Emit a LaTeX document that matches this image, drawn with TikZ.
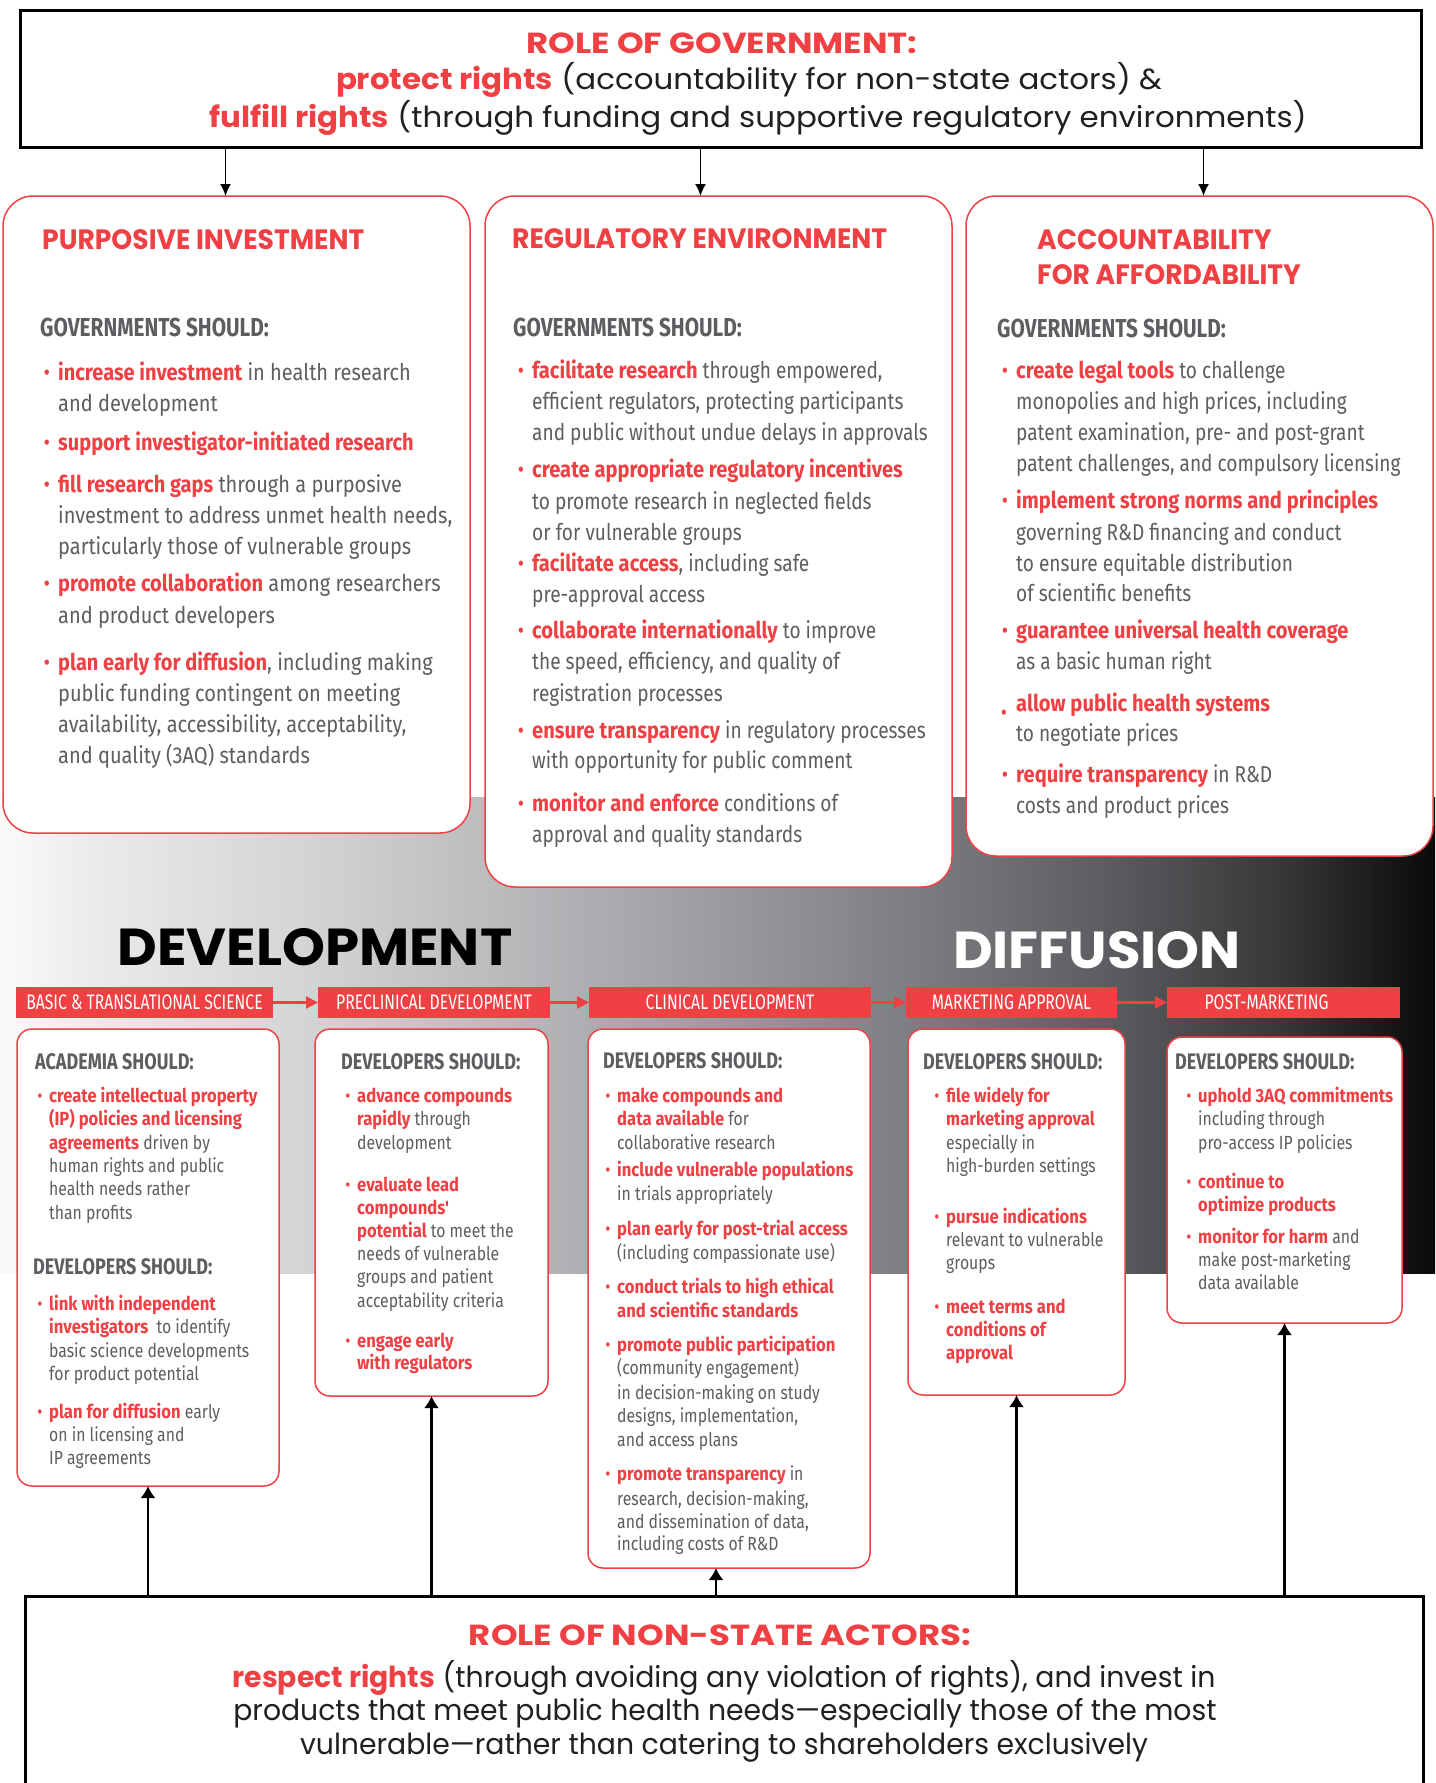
\documentclass[tikz,border=0pt]{standalone}
\usepackage{fontspec}
\usetikzlibrary{arrows.meta}

\newfontfamily\gottitle{Poppins}[FakeStretch=1.17]
\newfontfamily\gotlead{Poppins}[FakeStretch=1.065]
\newfontfamily\gotleadb{Poppins}[FakeStretch=0.975]
\newfontfamily\gotphase{Poppins}[FakeStretch=1.05]
\newfontfamily\gotpanel{Poppins}[FakeStretch=0.95]
\newfontfamily\dintext{Fira Sans}[FakeStretch=0.87]
\newfontfamily\dintextn{Fira Sans}[UprightFeatures={FakeStretch=0.83},BoldFeatures={FakeStretch=0.875}]
\newfontfamily\dinhead{Fira Sans}[FakeStretch=0.8]
\newfontfamily\dinstage{Fira Sans}[FakeStretch=0.75]

\definecolor{hrred}{HTML}{EF4044}
\definecolor{hrgray}{HTML}{5D5E61}
\definecolor{hrink}{HTML}{231F20}
% grey to black band behind the pipeline
\definecolor{band0}{HTML}{FAFAFA}
\definecolor{band1}{HTML}{E9EAEB}
\definecolor{band2}{HTML}{D0D1D3}
\definecolor{band3}{HTML}{B9BABC}
\definecolor{band4}{HTML}{9B9C9F}
\definecolor{band5}{HTML}{7E7F82}
\definecolor{band6}{HTML}{5C5D60}
\definecolor{band7}{HTML}{353537}
\definecolor{band8}{HTML}{141414}
\definecolor{band9}{HTML}{0A0A0A}
\pgfdeclarehorizontalshading{pipeband}{100bp}{color(0bp)=(band0); color(25bp)=(band0);
  color(28.5bp)=(band1); color(36.5bp)=(band2); color(42.5bp)=(band3); color(50bp)=(band4);
  color(56.5bp)=(band5); color(63.5bp)=(band6); color(70bp)=(band7); color(73.75bp)=(band8);
  color(75bp)=(band9); color(100bp)=(band9)}

\newcommand\hl[1]{\textcolor{hrred}{\bfseries #1}}
\newcommand\bul{\llap{\textcolor{hrred}{\textbullet}\hspace{0.35em}}}
\newcommand\bullow{\llap{\raisebox{-9pt}{\textcolor{hrred}{\textbullet}}\hspace{0.4em}}}

\begin{document}
\begin{tikzpicture}[x=1pt,y=-1pt,
  panel/.style={draw=hrred,line width=1.5pt,fill=white,rounded corners=30pt,inner sep=0pt,outer sep=0pt},
  stepbox/.style={panel,rounded corners=15pt},
  rolebox/.style={draw=black,line width=3pt,fill=white,inner sep=0pt,outer sep=0pt},
  title/.style={text=hrred,inner sep=0pt,font=\gottitle\bfseries\fontsize{29}{34}\selectfont},
  lead/.style={text=hrink,inner sep=0pt,font=\gotlead\fontsize{29}{34}\selectfont},
  leadb/.style={lead,font=\gotleadb\fontsize{29}{34}\selectfont},
  phase/.style={inner sep=0pt,font=\gotphase\bfseries\fontsize{52}{60}\selectfont},
  phead/.style={anchor=west,inner sep=0pt,text=hrred,font=\gotpanel\bfseries\fontsize{28}{34}\selectfont},
  should/.style={anchor=west,inner sep=0pt,text=hrgray,font=\dinhead\bfseries\fontsize{26}{30}\selectfont},
  bshould/.style={should,font=\dinhead\bfseries\fontsize{22.5}{26}\selectfont},
  pline/.style={anchor=mid west,inner sep=0pt,yshift=-5pt,text=hrgray,font=\dintext\fontsize{23}{31}\selectfont},
  plinen/.style={pline,font=\dintextn\fontsize{23}{31}\selectfont},
  bline/.style={anchor=mid west,inner sep=0pt,yshift=-4pt,text=hrgray,font=\dintextn\fontsize{19}{23}\selectfont},
  stage/.style={fill=hrred,text=white,minimum height=31pt,inner sep=0pt,outer sep=0pt,
    font=\dinstage\fontsize{21}{21}\selectfont},
  govarrow/.style={-{Latex[length=12pt,width=11pt]},line width=1.6pt},
  nsaarrow/.style={-{Latex[length=12pt,width=15pt]},line width=2.2pt},
  stagearrow/.style={-{Triangle[length=12pt,width=12pt]},line width=2.5pt,draw=hrred}]
\clip (0,0) rectangle (1435,1783);

% background band
\shade[shading=pipeband] (0,797) rectangle (1435,1273);

% government box and the three panels
\node[rolebox,minimum width=1401pt,minimum height=137pt] (gov) at (720.5,78.5) {};
\node[panel,minimum width=467pt,minimum height=637pt] (p1) at (236.5,514.5) {};
\node[panel,minimum width=467pt,minimum height=691pt] (p2) at (718.5,541.5) {};
\node[panel,minimum width=467pt,minimum height=660pt] (p3) at (1199.5,526) {};
\coordinate (t1) at ([xshift=-11pt]p1.north);
\coordinate (t2) at ([xshift=-18pt]p2.north);
\coordinate (t3) at ([xshift=4pt]p3.north);
\foreach \t in {t1,t2,t3} \draw[govarrow] (\t |- gov.south) -- (\t);

\node[title] (gov1) at (722,43) {ROLE OF GOVERNMENT:};
\node[lead] (gov2) at (749,80) {\hl{protect rights} (accountability for non-state actors) \&};
\node[lead] (gov3) at (758,118) {\hl{fulfill rights} (through funding and supportive regulatory environments)};

% purposive investment
\node[phead] (p1h) at (42,240) {PURPOSIVE INVESTMENT};
\node[should] (p1s) at (40,327) {GOVERNMENTS SHOULD:};
\foreach \y/\t [count=\i] in {
  373/{\bul\hl{increase investment} in health research},
  404/{and development},
  443/{\bul\hl{support investigator-initiated research}},
  485/{\bul\hl{fill research gaps} through a purposive},
  516/{investment to address unmet health needs,},
  547/{particularly those of vulnerable groups},
  584/{\bul\hl{promote collaboration} among researchers},
  616/{and product developers},
  663/{\bul\hl{plan early for diffusion}, including making},
  694/{public funding contingent on meeting},
  725/{availability, accessibility, acceptability,},
  756/{and quality (3AQ) standards}}
  \node[pline] (p1l\i) at (58,\y) {\t};

% regulatory environment
\node[phead] (p2h) at (512,239) {REGULATORY ENVIRONMENT};
\node[should] (p2s) at (513,327) {GOVERNMENTS SHOULD:};
\foreach \y/\t [count=\i] in {
  371/{\bul\hl{facilitate research} through empowered,},
  402/{efficient regulators, protecting participants},
  433/{and public without undue delays in approvals},
  470/{\bul\hl{create appropriate regulatory incentives}},
  502/{to promote research in neglected fields},
  533/{or for vulnerable groups},
  564/{\bul\hl{facilitate access}, including safe},
  595/{pre-approval access},
  631/{\bul\hl{collaborate internationally} to improve},
  662/{the speed, efficiency, and quality of},
  694/{registration processes},
  731/{\bul\hl{ensure transparency} in regulatory processes},
  761/{with opportunity for public comment},
  804/{\bul\hl{monitor and enforce} conditions of},
  835/{approval and quality standards}}
  \node[plinen] (p2l\i) at (532,\y) {\t};

% accountability for affordability
\node[phead] (p3h) at (1037,240) {ACCOUNTABILITY};
\node[phead] (p3h2) at (1037,275) {FOR AFFORDABILITY};
\node[should] (p3s) at (997,328) {GOVERNMENTS SHOULD:};
\foreach \y/\t [count=\i] in {
  371/{\bul\hl{create legal tools} to challenge},
  402/{monopolies and high prices, including},
  433/{patent examination, pre- and post-grant},
  464/{patent challenges, and compulsory licensing},
  501/{\bul\hl{implement strong norms and principles}},
  533/{governing R\&D financing and conduct},
  564/{to ensure equitable distribution},
  594/{of scientific benefits},
  631/{\bul\hl{guarantee universal health coverage}},
  662/{as a basic human right},
  704/{\bullow\hl{allow public health systems}},
  734/{to negotiate prices},
  775/{\bul\hl{require transparency} in R\&D},
  806/{costs and product prices}}
  \node[plinen] (p3l\i) at (1016,\y) {\t};

% pipeline
\node[phase,text=black] (dev) at (315,947) {DEVELOPMENT};
\node[phase,text=white] (dif) at (1097,950) {DIFFUSION};

\node[stage,minimum width=257pt] (s1) at (144.5,1002.5) {BASIC \& TRANSLATIONAL SCIENCE};
\node[stage,minimum width=232pt] (s2) at (434,1002.5) {PRECLINICAL DEVELOPMENT};
\node[stage,minimum width=282pt] (s3) at (730,1002.5) {CLINICAL DEVELOPMENT};
\node[stage,minimum width=211pt] (s4) at (1011.5,1002.5) {MARKETING APPROVAL};
\node[stage,minimum width=233pt] (s5) at (1283.5,1002.5) {POST-MARKETING\kern34pt};
\foreach \a/\b in {s1/s2,s2/s3,s3/s4,s4/s5} \draw[stagearrow] (\a) -- (\b);

\node[stepbox,minimum width=262pt,minimum height=457pt] (bA) at (148,1257.5) {};
\node[stepbox,minimum width=233pt,minimum height=367pt] (bB) at (431.5,1212.5) {};
\node[stepbox,minimum width=282pt,minimum height=539pt] (bC) at (729,1298.5) {};
\node[stepbox,minimum width=217pt,minimum height=366pt] (bD) at (1016.5,1212) {};
\node[stepbox,minimum width=235pt,minimum height=286pt] (bE) at (1284.5,1180) {};

% basic & translational science
\node[bshould] (bAs) at (35,1062) {ACADEMIA SHOULD:};
\node[bshould] (bAs2) at (33,1267) {DEVELOPERS SHOULD:};
\foreach \y/\t [count=\i] in {
  1096/{\bul\hl{create intellectual property}},
  1119/{\hl{(IP) policies and licensing}},
  1143/{\hl{agreements} driven by},
  1166/{human rights and public},
  1189/{health needs rather},
  1213/{than profits},
  1304/{\bul\hl{link with independent}},
  1327/{\hl{investigators}\ \ to identify},
  1351/{basic science developments},
  1374/{for product potential},
  1412/{\bul\hl{plan for diffusion} early},
  1435/{on in licensing and},
  1458/{IP agreements}}
  \node[bline] (bAl\i) at (49,\y) {\t};

% preclinical development
\node[bshould] (bBs) at (341,1062) {DEVELOPERS SHOULD:};
\foreach \y/\t [count=\i] in {
  1096/{\bul\hl{advance compounds}},
  1119/{\hl{rapidly} through},
  1143/{development},
  1185/{\bul\hl{evaluate lead}},
  1208/{\hl{compounds'}},
  1231/{\hl{potential} to meet the},
  1254/{needs of vulnerable},
  1277/{groups and patient},
  1301/{acceptability criteria},
  1341/{\bul\hl{engage early}},
  1363/{\hl{with regulators}}}
  \node[bline] (bBl\i) at (357,\y) {\t};

% clinical development
\node[bshould] (bCs) at (603,1061) {DEVELOPERS SHOULD:};
\foreach \y/\t [count=\i] in {
  1096/{\bul\hl{make compounds and}},
  1119/{\hl{data available} for},
  1143/{collaborative research},
  1170/{\bul\hl{include vulnerable populations}},
  1194/{in trials appropriately},
  1229/{\bul\hl{plan early for post-trial access}},
  1253/{(including compassionate use)},
  1287/{\bul\hl{conduct trials to high ethical}},
  1311/{\hl{and scientific standards}},
  1345/{\bul\hl{promote public participation}},
  1368/{(community engagement)},
  1393/{in decision-making on study},
  1416/{designs, implementation,},
  1440/{and access plans},
  1474/{\bul\hl{promote transparency} in},
  1499/{research, decision-making,},
  1522/{and dissemination of data,},
  1544/{including costs of R\&D}}
  \node[bline] (bCl\i) at (617,\y) {\t};

% marketing approval
\node[bshould] (bDs) at (923,1062) {DEVELOPERS SHOULD:};
\foreach \y/\t [count=\i] in {
  1096/{\bul\hl{file widely for}},
  1119/{\hl{marketing approval}},
  1143/{especially in},
  1166/{high-burden settings},
  1217/{\bul\hl{pursue indications}},
  1240/{relevant to vulnerable},
  1263/{groups},
  1307/{\bul\hl{meet terms and}},
  1330/{\hl{conditions of}},
  1353/{\hl{approval}}}
  \node[bline] (bDl\i) at (946,\y) {\t};

% post-marketing
\node[bshould] (bEs) at (1175,1062) {DEVELOPERS SHOULD:};
\foreach \y/\t [count=\i] in {
  1096/{\bul\hl{uphold 3AQ commitments}},
  1119/{including through},
  1143/{pro-access IP policies},
  1182/{\bul\hl{continue to}},
  1205/{\hl{optimize products}},
  1237/{\bul\hl{monitor for harm} and},
  1260/{make post-marketing},
  1283/{data available}}
  \node[bline] (bEl\i) at (1198,\y) {\t};

% non-state actors
\node[rolebox,minimum width=1398pt,minimum height=210pt] (nsa) at (724,1701) {};
\coordinate (bCfoot) at ([xshift=-13pt]bC.south);
\foreach \b in {bA.south,bB.south,bCfoot,bD.south,bE.south}
  \draw[nsaarrow] (nsa.north -| \b) -- (\b);
\node[title] (nsa1) at (720,1635) {ROLE OF NON-STATE ACTORS:};
\node[leadb] (nsa2) at (724,1678) {\hl{respect rights} (through avoiding any violation of rights), and invest in};
\node[leadb] (nsa3) at (725,1713) {products that meet public health needs—especially those of the most};
\node[leadb] (nsa4) at (724,1747) {vulnerable—rather than catering to shareholders exclusively};
\end{tikzpicture}
\end{document}
